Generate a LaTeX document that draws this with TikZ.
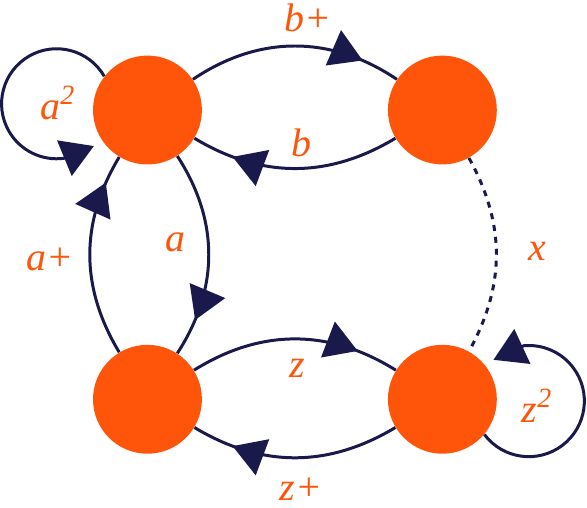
\documentclass[tikz,border=0pt]{standalone}
\usepackage{fontspec}
\setmainfont{Liberation Serif}
\usetikzlibrary{arrows.meta,decorations.markings}

\definecolor{stateorange}{RGB}{255,85,10}
\definecolor{edgenavy}{RGB}{25,25,75}

\tikzset{
	state/.style={circle,fill=stateorange,minimum size=1.92cm,inner sep=0pt},
	lbl/.style={text=stateorange,font=\fontsize{20}{22}\selectfont\itshape},
	edge/.style={line width=1.5pt,draw=edgenavy},
	tip/.style={-{Triangle[length=16pt,width=19pt]}},
	arrowat/.style={postaction={decorate},decoration={markings,
		mark=at position #1 with {\arrow[edgenavy]{Triangle[length=16pt,width=19pt]}}}}
}

\begin{document}
\begin{tikzpicture}
				\useasboundingbox (0,0) rectangle (10.35,8.94);

				\node[state] (tl) at (2.6,7.0) {};
				\node[state] (tr) at (7.8,7.0) {};
				\node[state] (bl) at (2.6,1.9) {};
				\node[state] (br) at (7.8,1.9) {};

				\draw[edge,arrowat=0.82] (tl) to[bend left=34] (tr);
				\draw[edge,arrowat=0.8] (tr) to[bend left=31] (tl);
				\draw[edge,arrowat=0.82] (tl) to[bend left=33] (bl);
				\draw[edge,arrowat=0.86] (bl) to[bend left=31] (tl);
				\draw[edge,arrowat=0.8] (bl) to[bend left=32] (br);
				\draw[edge,arrowat=0.8] (br) to[bend left=31] (bl);
				\draw[edge,dash pattern=on 3pt off 3pt] (tr) to[bend left=29] (br);

				% loops
				\draw[edge,tip,shorten >=5pt] (tl.142) arc[start angle=30,end angle=278,radius=0.97cm] -- (tl.216);
				\draw[edge,tip,shorten >=5pt] (br.-40) arc[start angle=217,end angle=455,radius=0.98cm] -- (br.40);

				\node[lbl] (lbp) at (5.43,8.62) {b+};
				\node[lbl] (lb) at (5.32,6.42) {b};
				\node[lbl] (la2) at (1.02,7.12) {a\textsuperscript{2}};
				\node[lbl] (la) at (3.10,4.67) {a};
				\node[lbl] (lap) at (0.88,4.37) {a+};
				\node[lbl] (lx) at (9.47,4.50) {x};
				\node[lbl] (lz) at (5.24,2.45) {z};
				\node[lbl] (lzp) at (5.31,0.32) {z+};
				\node[lbl] (lz2) at (9.47,1.78) {z\textsuperscript{2}};
			\end{tikzpicture}
\end{document}
